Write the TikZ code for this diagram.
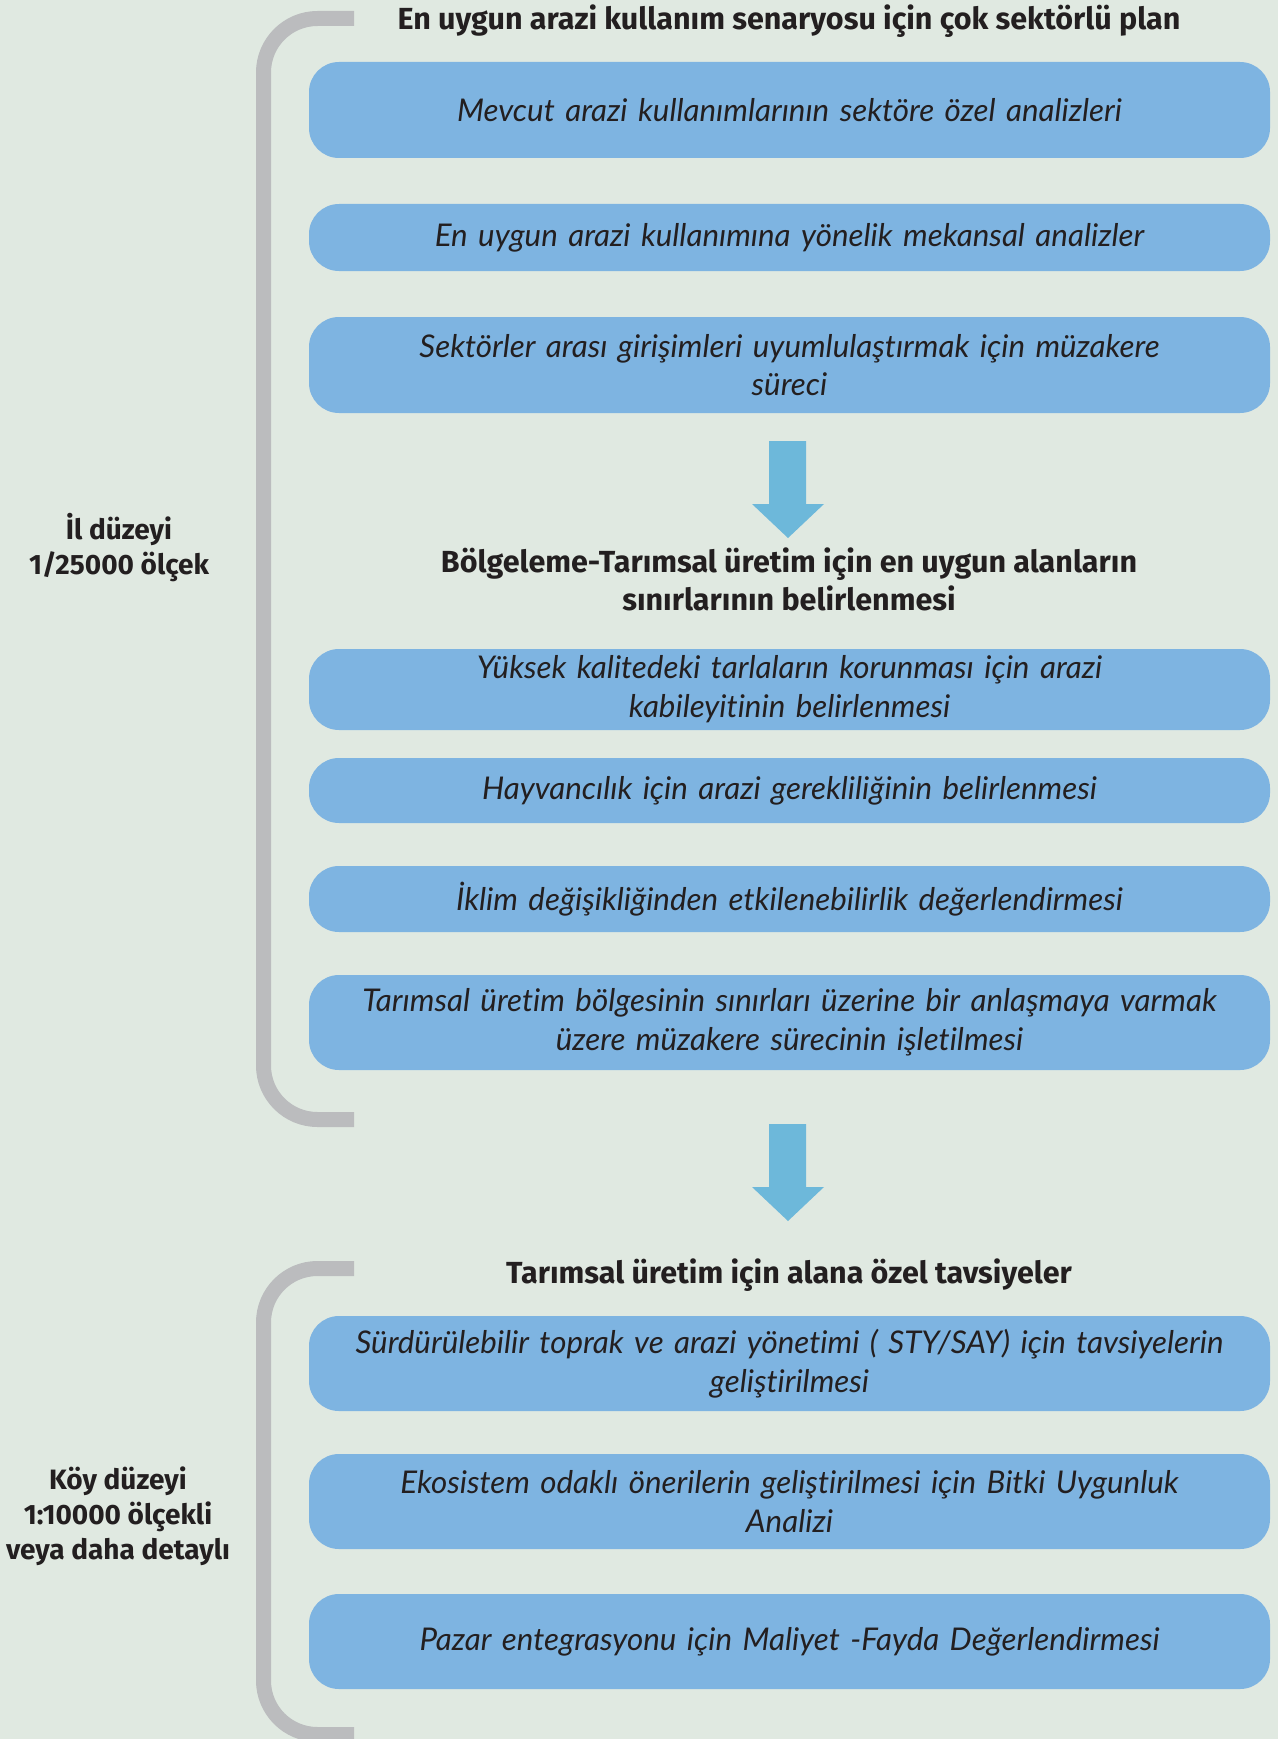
\documentclass[tikz,border=0pt]{standalone}
\usepackage{fontspec}
\setmainfont{Fira Sans}
\newfontfamily\boxfont[Ligatures={NoCommon}]{Lato}
\usetikzlibrary{positioning}
\definecolor{bg}{HTML}{E0E9E1}
\definecolor{boxfill}{HTML}{7EB4E1}
\definecolor{arrowc}{HTML}{6DB8DA}
\definecolor{brack}{HTML}{BBBCBE}
\definecolor{txt}{HTML}{231F20}
\begin{document}
\begin{tikzpicture}[x=1pt,y=-1pt,
  stepbox/.style={fill=boxfill, rounded corners=30pt, minimum width=961pt, inner sep=0pt,
     text=txt, align=center, text width=940pt, font=\boxfont\fontsize{31.3}{38.8}\selectfont\itshape},
  titlebox/.style={text=txt, align=center, anchor=base, font=\fontsize{30.5}{37.7}\selectfont\bfseries},
  sidelabel/.style={text=txt, align=center, anchor=base, font=\fontsize{28}{35}\selectfont\bfseries},
  bracket/.style={draw=brack, line width=15pt, rounded corners=54pt},
  bigarrow/.style={fill=arrowc}]
\fill[bg] (0,0) rectangle (1278,1739);
\useasboundingbox (0,0) rectangle (1278,1739);

% brackets
\draw[bracket] (354,18.5) -- (263.5,18.5) -- (263.5,1119.5) -- (354,1119.5);
\draw[bracket] (354,1268.5) -- (263.5,1268.5) -- (263.5,1734.5) -- (354,1734.5);

% titles (anchor base = baseline of last line)
\node[titlebox] (t1) at (789,30) {En uygun arazi kullanım senaryosu için çok sektörlü plan};
\node[titlebox] (t2) at (789,610) {Bölgeleme-Tarımsal üretim için en uygun alanların\\sınırlarının belirlenmesi};
\node[titlebox] (t3) at (789,1283) {Tarımsal üretim için alana özel tavsiyeler};

% side labels
\node[sidelabel] (l1) at (119,574) {İl düzeyi\\1/25000 ölçek};
\node[sidelabel] (l2) at (118,1559) {Köy düzeyi\\1:10000 ölçekli\\veya daha detaylı};

% boxes
\node[stepbox, minimum height=96pt] (b1) at (789.5,110) {Mevcut arazi kullanımlarının sektöre özel analizleri};
\node[stepbox, minimum height=67pt] (b2) at (789.5,237.5) {En uygun arazi kullanımına yönelik mekansal analizler};
\node[stepbox, minimum height=96pt] (b3) at (789.5,365) {Sektörler arası girişimleri uyumlulaştırmak için müzakere\\süreci};
\node[stepbox, minimum height=81pt] (b4) at (789.5,689.5) {Yüksek kalitedeki tarlaların korunması için arazi\\kabileyitinin belirlenmesi};
\node[stepbox, minimum height=65pt] (b5) at (789.5,790.5) {Hayvancılık için arazi gerekliliğinin belirlenmesi};
\node[stepbox, minimum height=66pt] (b6) at (789.5,899) {İklim değişikliğinden etkilenebilirlik değerlendirmesi};
\node[stepbox, minimum height=95pt] (b7) at (789.5,1022.5) {Tarımsal üretim bölgesinin sınırları üzerine bir anlaşmaya varmak\\üzere müzakere sürecinin işletilmesi};
\node[stepbox, minimum height=95pt] (b8) at (789.5,1363.5) {Sürdürülebilir toprak ve arazi yönetimi ( STY/SAY) için tavsiyelerin\\geliştirilmesi};
\node[stepbox, minimum height=95pt] (b9) at (789.5,1501.5) {Ekosistem odaklı önerilerin geliştirilmesi için Bitki Uygunluk\\Analizi};
\node[stepbox, minimum height=95pt] (b10) at (789.5,1641.5) {Pazar entegrasyonu için Maliyet -Fayda Değerlendirmesi};

% arrows
\fill[bigarrow] (769,441) -- (806,441) -- (806,504) -- (824,504) -- (788,538) -- (752,504) -- (769,504) -- cycle;
\fill[bigarrow] (769,1124) -- (806,1124) -- (806,1187) -- (824,1187) -- (788,1221) -- (752,1187) -- (769,1187) -- cycle;
\end{tikzpicture}
\end{document}
